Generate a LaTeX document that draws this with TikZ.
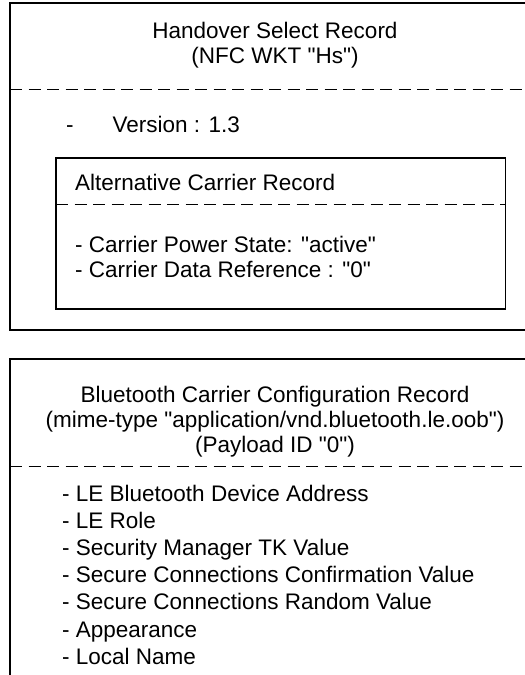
\documentclass[tikz,border=0pt]{standalone}
\usepackage{fontspec}
\setmainfont{Liberation Sans}[Ligatures=TeXOff]
\usetikzlibrary{positioning}

\begin{document}
\begin{tikzpicture}[x=1pt,y=-1pt,
                    record/.style={draw,line width=1.1pt},
                    sepline/.style={line width=1pt,dash pattern=on 12pt off 6.5pt},
                    head/.style={font=\fontsize{22.5}{25}\selectfont,anchor=base,inner sep=0pt},
                    entry/.style={font=\fontsize{22.5}{25}\selectfont,anchor=base west,inner sep=0pt}
                   ]

  \useasboundingbox (0,0) rectangle (525,675);
  \clip (0,0) rectangle (525,675);

  % handover select record
  \draw[record] (10,3) rectangle (540,330);
  \node[head] (hs title) at (275,38) {Handover Select Record};
  \node[head] (hs wkt) at (275,63) {(NFC WKT "Hs")};
  \draw[sepline] (10,89) -- (540,89);
  \node[entry] (hs version) at (66,132) {-\hspace{39pt}Version : 1.3};

  % alternative carrier record inside it
  \draw[record] (56,158) rectangle (505.5,309);
  \node[entry] (ac title) at (75,190) {Alternative Carrier Record};
  \draw[sepline] (56,204.5) -- (505.5,204.5);
  \node[entry] (ac power) at (75,252.5) {- Carrier Power State: "active"};
  \node[entry] (ac ref) at (75,277) {- Carrier Data Reference : "0"};

  % bluetooth carrier configuration record
  \draw[record] (10,359) rectangle (540,700);
  \node[head] (bt title) at (275,402) {Bluetooth Carrier Configuration Record};
  \node[head] (bt mime) at (275,427) {(mime-type "application/vnd.bluetooth.le.oob")};
  \node[head] (bt id) at (275,452) {(Payload ID "0")};
  \draw[sepline] (10,466) -- (540,466);
  \node[entry] (bt addr) at (62,501) {- LE Bluetooth Device Address};
  \node[entry] (bt role) at (62,528.2) {- LE Role};
  \node[entry] (bt tk) at (62,555.4) {- Security Manager TK Value};
  \node[entry] (bt confirm) at (62,582.6) {- Secure Connections Confirmation Value};
  \node[entry] (bt random) at (62,609.8) {- Secure Connections Random Value};
  \node[entry] (bt look) at (62,637) {- Appearance};
  \node[entry] (bt name) at (62,664.2) {- Local Name};
\end{tikzpicture}
\end{document}
